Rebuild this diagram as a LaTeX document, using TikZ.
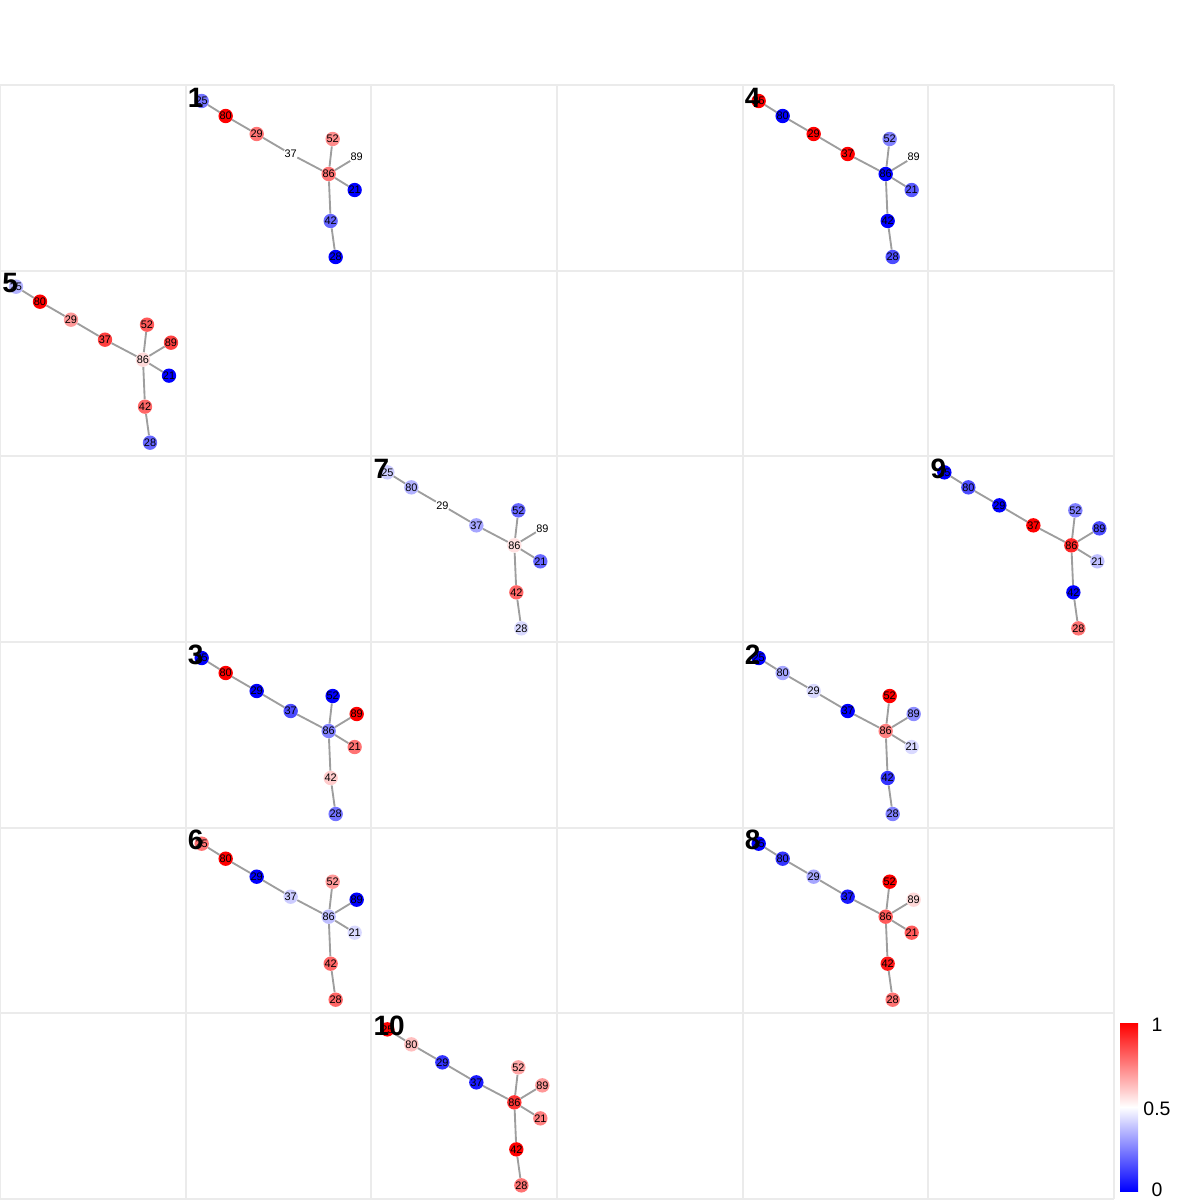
\documentclass[tikz,border=0pt]{standalone}
\usepackage{fontspec}
\setmainfont{Liberation Sans}
\usepackage{xcolor}
\usetikzlibrary{backgrounds}
\definecolor{panelGrid}{RGB}{235,235,235}
\definecolor{edgeGray}{RGB}{158,158,158}

\tikzset{
  vtx/.style={circle,draw=none,minimum size=9.9pt,inner sep=0pt,
    font=\fontsize{8.2}{9}\selectfont},
  edge/.style={edgeGray,line width=1.4pt},
  casenum/.style={inner sep=0pt,font=\fontsize{21}{22}\selectfont\bfseries},
  barlabel/.style={inner sep=0pt,font=\fontsize{14.6}{16}\selectfont}
}

% one panel: column, row, case number, node/colour list
\newcommand{\casetree}[4]{%
  \begin{scope}[shift={(#1*185.67,85+#2*185.67)}]
    \foreach \n/\x/\y in {25/16/16,80/40/31,29/71/49,37/105/69,52/147/54,
      89/171/72,86/143/89,21/169/105,42/145/136,28/150/172}
      \coordinate (c\n) at (\x,\y);
    \foreach \n/\c in {#4}
      \node[vtx,fill=\c] (t#3-\n) at (c\n) {\n};
    \begin{scope}[on background layer]
      \foreach \a/\b in {25/80,80/29,29/37,37/86,86/52,86/89,86/21,86/42,42/28}
        \draw[edge] (t#3-\a) -- (t#3-\b);
    \end{scope}
    \node[casenum,anchor=base west] (lab#3) at (2,22) {#3};
  \end{scope}}

\begin{document}
\begin{tikzpicture}[x=0.75pt,y=-0.75pt]
  \useasboundingbox (0,0) rectangle (1200,1200);
  \begin{scope}[on background layer]
    \foreach \i in {0,...,6} {
      \draw[panelGrid,line width=1.6pt] (\i*185.67,85) -- (\i*185.67,1199);
      \draw[panelGrid,line width=1.6pt] (0,85+\i*185.67) -- (1114,85+\i*185.67);
    }
  \end{scope}

  \casetree{1}{0}{1}{25/blue!55,80/red,29/red!55,37/white,52/red!45,89/white,86/red!55,21/blue,42/blue!60,28/blue}
  \casetree{4}{0}{4}{25/red,80/blue,29/red,37/red,52/blue!50,89/white,86/blue,21/blue!65,42/blue,28/blue!70}
  \casetree{0}{1}{5}{25/blue!30,80/red,29/red!40,37/red!75,52/red!65,89/red!75,86/red!15,21/blue,42/red!60,28/blue!60}
  \casetree{2}{2}{7}{25/blue!20,80/blue!30,29/white,37/blue!35,52/blue!60,89/white,86/red!12,21/blue!60,42/red!60,28/blue!15}
  \casetree{5}{2}{9}{25/blue,80/blue!70,29/blue,37/red,52/blue!50,89/blue!70,86/red!85,21/blue!25,42/blue,28/red!55}
  \casetree{1}{3}{3}{25/blue,80/red,29/blue,37/blue!70,52/blue,89/red,86/blue!50,21/red!55,42/red!20,28/blue!55}
  \casetree{4}{3}{2}{25/blue,80/blue!35,29/blue!15,37/blue,52/red,89/blue!45,86/red!50,21/blue!15,42/blue!80,28/blue!50}
  \casetree{1}{4}{6}{25/red!55,80/red,29/blue,37/blue!20,52/red!40,89/blue,86/blue!25,21/blue!15,42/red!60,28/red!60}
  \casetree{4}{4}{8}{25/blue,80/blue!80,29/blue!35,37/blue!90,52/red,89/red!15,86/red!65,21/red!65,42/red!90,28/red!55}
  \casetree{2}{5}{10}{25/red,80/red!25,29/blue!80,37/blue!90,52/red!35,89/red!40,86/red!80,21/red!50,42/red,28/red!55}

  % colour bar
  \shade[top color=red,bottom color=blue,middle color=white] (1120,1023) rectangle (1138,1191);
  \node[barlabel] (cb1) at (1157,1025) {1};
  \node[barlabel] (cb05) at (1157,1109) {0.5};
  \node[barlabel] (cb0) at (1157,1190) {0};
\end{tikzpicture}
\end{document}
